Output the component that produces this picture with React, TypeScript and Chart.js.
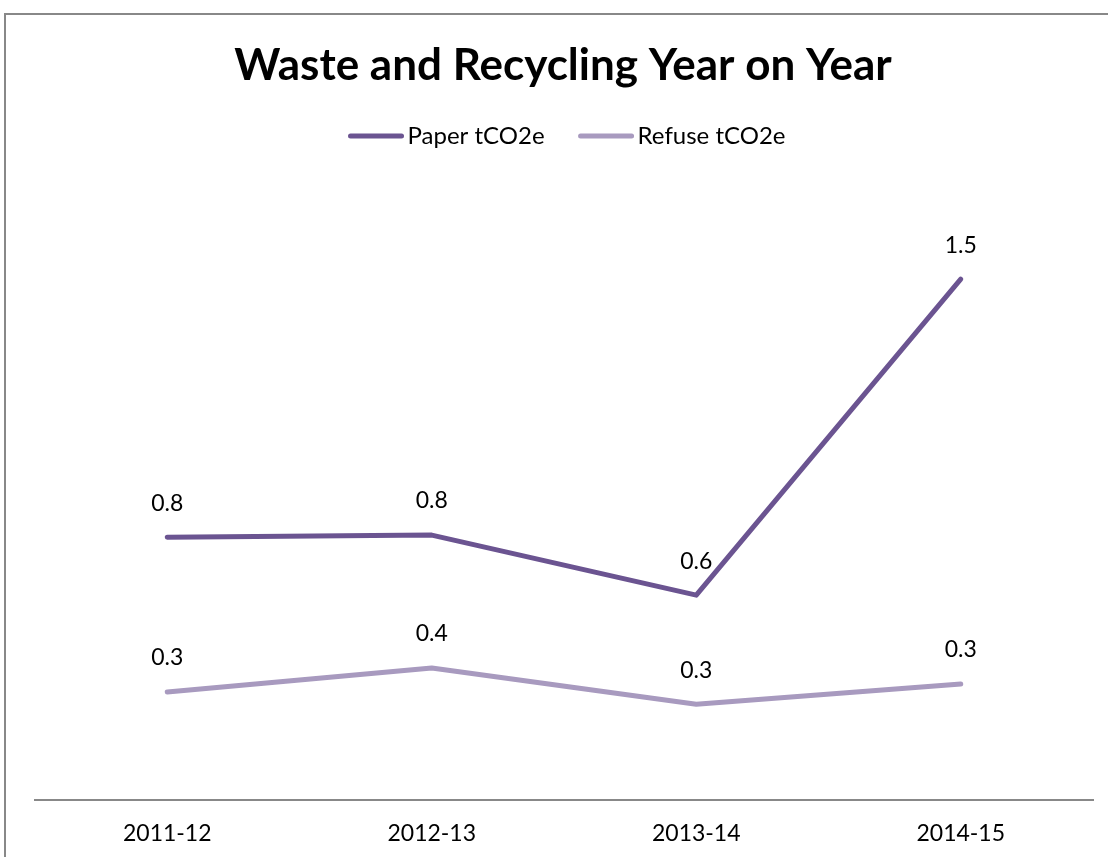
import React, { useEffect, useRef } from "react";
import { Chart, registerables } from "chart.js";

Chart.register(...registerables);

const titleText = "Waste and Recycling Year on Year";
const categories = ["2011-12", "2012-13", "2013-14", "2014-15"];
const seriesNames = ["Paper tCO2e", "Refuse tCO2e"];
const paperValues = [0.757, 0.763, 0.59, 1.5];
const refuseValues = [0.311, 0.38, 0.276, 0.334];
const seriesColors = ["#6B5491", "#A89ABF"];

const FONT = "Lato, 'Open Sans', sans-serif";

const decorPlugin = {
  id: "decor",
  beforeDraw(chart: any) {
    const ctx = chart.ctx;
    ctx.save();
    ctx.strokeStyle = "#888888";
    ctx.lineWidth = 2;
    ctx.beginPath();
    ctx.moveTo(5, chart.height);
    ctx.lineTo(5, 14);
    ctx.lineTo(chart.width, 14);
    ctx.stroke();
    ctx.restore();
  },
  afterDraw(chart: any) {
    const ctx = chart.ctx;
    ctx.save();
    // title
    ctx.fillStyle = "#000";
    ctx.font = `bold 44px ${FONT}`;
    ctx.textAlign = "center";
    ctx.textBaseline = "middle";
    ctx.fillText(titleText, 563, 66);

    // legend
    ctx.font = `24px ${FONT}`;
    const lineW = 55;
    const gapText = 4;
    const gapItem = 34;
    const widths = seriesNames.map((n) => ctx.measureText(n).width);
    const total =
      widths.reduce((a, w) => a + lineW + gapText + w, 0) + gapItem * (seriesNames.length - 1);
    let x = 567 - total / 2;
    const ly = 136;
    seriesNames.forEach((n, i) => {
      ctx.strokeStyle = seriesColors[i];
      ctx.lineWidth = 5;
      ctx.lineCap = "round";
      ctx.beginPath();
      ctx.moveTo(x + 2, ly);
      ctx.lineTo(x + lineW - 2, ly);
      ctx.stroke();
      ctx.fillStyle = "#000";
      ctx.textAlign = "left";
      ctx.textBaseline = "middle";
      ctx.fillText(n, x + lineW + gapText, ly);
      x += lineW + gapText + widths[i] + gapItem;
    });

    // data labels
    ctx.font = `23px ${FONT}`;
    ctx.textAlign = "center";
    ctx.textBaseline = "middle";
    ctx.fillStyle = "#000";
    chart.data.datasets.forEach((ds: any, di: number) => {
      const meta = chart.getDatasetMeta(di);
      meta.data.forEach((pt: any, i: number) => {
        ctx.fillText(Number(ds.data[i]).toFixed(1), pt.x, pt.y - 34);
      });
    });
    ctx.restore();
  },
};

export default function App() {
  const ref = useRef<HTMLCanvasElement>(null);
  useEffect(() => {
    document.body.style.margin = "0";
    document.body.style.overflow = "hidden";
    const chart = new Chart(ref.current!, {
      type: "line",
      data: {
        labels: categories,
        datasets: [
          {
            label: seriesNames[0],
            data: paperValues,
            borderColor: seriesColors[0],
            backgroundColor: seriesColors[0],
            borderWidth: 5,
            pointRadius: 0,
            borderCapStyle: "round",
            borderJoinStyle: "round",
            tension: 0,
          },
          {
            label: seriesNames[1],
            data: refuseValues,
            borderColor: seriesColors[1],
            backgroundColor: seriesColors[1],
            borderWidth: 5,
            pointRadius: 0,
            borderCapStyle: "round",
            borderJoinStyle: "round",
            tension: 0,
          },
        ],
      },
      options: {
        responsive: false,
        devicePixelRatio: 1,
        animation: false,
        layout: { padding: { left: 35, right: 15, top: 175, bottom: 0 } },
        plugins: {
          legend: { display: false },
          title: { display: false },
          tooltip: { enabled: false },
        },
        scales: {
          x: {
            offset: true,
            grid: { display: false, drawTicks: false },
            border: { display: true, color: "#888888", width: 2 },
            ticks: {
              color: "#000",
              font: { family: FONT, size: 23 },
              padding: 20,
              maxRotation: 0,
            },
            afterFit(scale: any) {
              scale.height = 57;
            },
          },
          y: {
            display: false,
            min: 0,
            max: 1.8,
          },
        },
      },
      plugins: [decorPlugin],
    });
    return () => chart.destroy();
  }, []);
  return (
    <div style={{ width: 1108, height: 857, overflow: "hidden" }}>
      <canvas ref={ref} width={1108} height={857} style={{ display: "block" }} />
    </div>
  );
}
